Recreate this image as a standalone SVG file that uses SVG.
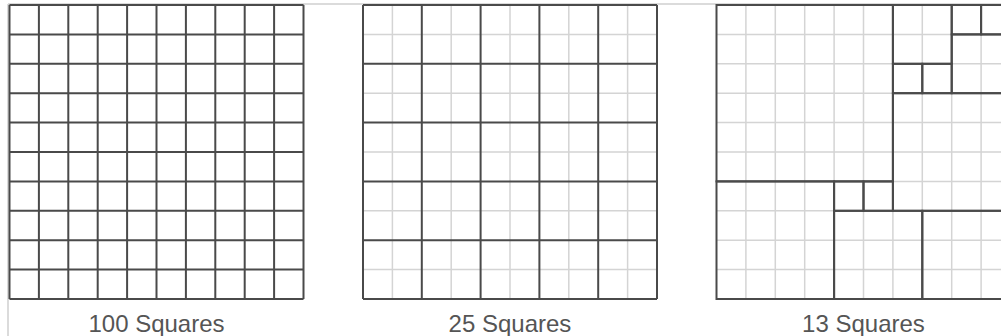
<svg xmlns="http://www.w3.org/2000/svg" width="1001" height="336" viewBox="0 0 1001 336">
<style>
.frame{fill:none;stroke:#cfcfcf;stroke-width:1.5}
.heavy{fill:none;stroke:#4a4a4a;stroke-width:2}
.light{fill:none;stroke:#d4d4d4;stroke-width:1.5}
.label{font-family:"Liberation Sans",Arial,sans-serif;font-size:24px;fill:#555;text-anchor:middle}
</style>
<rect width="1001" height="336" fill="#fff"/>
<path class="frame" d="M8 4 H1001 M8 4 V336"/>
<g id="grid100" transform="translate(9.5,5)">
<path class="heavy" d="M0 0V294M29.4 0V294M58.8 0V294M88.2 0V294M117.6 0V294M147 0V294M176.4 0V294M205.8 0V294M235.2 0V294M264.6 0V294M294 0V294M0 0H294M0 29.4H294M0 58.8H294M0 88.2H294M0 117.6H294M0 147H294M0 176.4H294M0 205.8H294M0 235.2H294M0 264.6H294M0 294H294"/>
</g>
<g id="grid25" transform="translate(363,5)">
<path class="light" d="M29.4 0V294M88.2 0V294M147 0V294M205.8 0V294M264.6 0V294M0 29.4H294M0 88.2H294M0 147H294M0 205.8H294M0 264.6H294"/>
<path class="heavy" d="M0 0V294M58.8 0V294M117.6 0V294M176.4 0V294M235.2 0V294M294 0V294M0 0H294M0 58.8H294M0 117.6H294M0 176.4H294M0 235.2H294M0 294H294"/>
</g>
<g id="grid13" transform="translate(716.5,5)">
<path class="light" d="M29.4 0V294M58.8 0V294M88.2 0V294M117.6 0V294M147 0V294M176.4 0V294M205.8 0V294M235.2 0V294M264.6 0V294M0 29.4H294M0 58.8H294M0 88.2H294M0 117.6H294M0 147H294M0 176.4H294M0 205.8H294M0 235.2H294M0 264.6H294"/>
<g class="heavy">
<rect x="0" y="0" width="176.4" height="176.4"/>
<rect x="0" y="176.4" width="117.6" height="117.6"/>
<rect x="117.6" y="176.4" width="29.4" height="29.4"/>
<rect x="147" y="176.4" width="29.4" height="29.4"/>
<rect x="117.6" y="205.8" width="88.2" height="88.2"/>
<rect x="205.8" y="205.8" width="88.2" height="88.2"/>
<rect x="176.4" y="0" width="58.8" height="58.8"/>
<rect x="235.2" y="0" width="29.4" height="29.4"/>
<rect x="264.6" y="0" width="29.4" height="29.4"/>
<rect x="235.2" y="29.4" width="58.8" height="58.8"/>
<rect x="176.4" y="58.8" width="29.4" height="29.4"/>
<rect x="205.8" y="58.8" width="29.4" height="29.4"/>
<rect x="176.4" y="88.2" width="117.6" height="117.6"/>
</g>
</g>
<g id="labels">
<text class="label" x="156.5" y="332">100 Squares</text>
<text class="label" x="510" y="332">25 Squares</text>
<text class="label" x="863.5" y="332">13 Squares</text>
</g>
</svg>
